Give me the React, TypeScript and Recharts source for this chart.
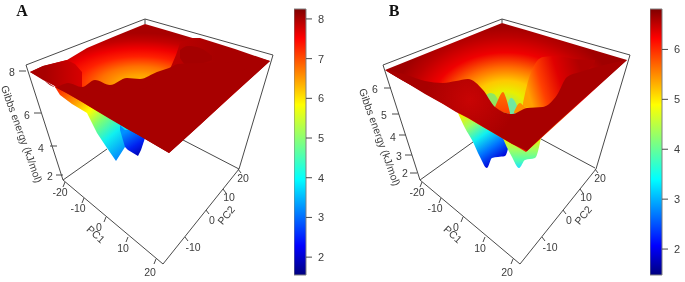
import React from "react";
import {
  Area,
  Bar,
  BarChart,
  ComposedChart,
  Line,
  Scatter,
  XAxis,
  YAxis,
} from "recharts";

// Everything in the perspective plots is given in the view plane of the plot.
const shiftB = 357;

// box edges (panel A, panel B is the same box moved right)
const floorFrontX = [26, 63, 163, 239, 273];
const floorFrontY = [65, 180, 264, 169, 55];
const topEdgeX = [26, 145, 273];
const topEdgeY = [65, 19, 55];
// the back edges only show where the surface does not hide them
const backLeftAX = [63, 107];
const backLeftAY = [180, 149];
const backRightAX = [239, 183];
const backRightAY = [169, 140];
const postAX = [145, 145];
const postAY = [19, 24];
const backLeftBX = [420, 473];
const backLeftBY = [180, 142];
const backRightBX = [595, 541];
const backRightBY = [168, 139];
const postBX = [502, 502];
const postBY = [19, 23];

// axis tick marks and labels
const pc1Labels = ["-20", "-10", "0", "10", "20"];
const pc1TickX = [65, 84, 106, 128, 156];
const pc1TickY = [182, 198, 217, 237, 259];
const pc1TextX = [60, 78, 99, 123, 150];
const pc1TextY = [192, 208, 227, 248, 272];
const pc2Labels = ["-10", "0", "10", "20"];
const pc2TickX = [185, 206, 223, 238];
const pc2TickY = [237, 210, 189, 169];
const pc2TextX = [193, 212, 229, 243];
const pc2TextY = [247, 220, 197, 178];

const zLabelsA = ["8", "6", "4", "2"];
const zTickXA = [26, 41, 57, 63];
const zTickYA = [71, 113, 146, 175];
const zTextXA = [12, 27, 41, 50];
const zTextYA = [72, 115, 148, 176];
const zLabelsB = ["6", "5", "4", "3", "2"];
const zTickXB = [391, 399, 406, 412, 417];
const zTickYB = [88, 114, 135, 155, 173];
const zTextXB = [375, 384, 393, 399, 405];
const zTextYB = [89, 115, 137, 156, 173];

// panel A surface
const kiteAX = [30, 43, 67, 87, 113, 145, 169, 270];
const kiteATop = [72, 66, 60, 48, 37, 24, 31, 61];
const kiteABot = [72, 79, 93, 105, 120, 139, 153, 61];
const frontAX = [30, 42, 55, 68, 82, 95, 110, 127, 140, 157, 169, 178, 200, 230, 270];
const frontATop = [72, 79, 87, 83, 87, 80, 85, 78, 79, 72, 68, 64, 63, 62, 61];
const frontABot = [72, 79, 87, 94, 102, 110, 119, 129, 136, 146, 153, 145, 125, 97, 61];
const wedgeAX = [30, 43, 67, 75, 82];
const wedgeATop = [72, 66, 60, 64, 72];
const wedgeABot = [72, 80, 92, 92, 92];
const wallAX = [170, 176, 180, 190, 200, 235, 270];
const wallATop = [69, 55, 43, 38, 38, 49, 61];
const wallABot = [72, 70, 68, 66, 66, 64, 61];
const lobeLeftAX = [55, 60, 72, 87, 97, 107, 116, 125, 132];
const lobeLeftATop = [86, 87, 93, 102, 108, 113, 119, 125, 129];
const lobeLeftABot = [87, 95, 104, 113, 133, 148, 161, 147, 135];
const lobeRightAX = [120, 125, 128, 133, 138, 141, 145];
const lobeRightATop = [125, 130, 130, 130, 132, 132, 135];
const lobeRightABot = [130, 147, 150, 153, 156, 150, 138];
const bumpAX = [180, 188, 200, 212];
const bumpATop = [50, 46, 48, 56];
const bumpABot = [58, 66, 64, 60];

// panel B surface
const kiteBX = [385, 502, 526, 627];
const kiteBTop = [70, 23, 30, 60];
const kiteBBot = [70, 138, 152, 60];
const frontBX = [385, 407, 425, 443, 456, 468, 483, 495, 512, 527, 543, 557, 567, 580, 600, 627];
const frontBTop = [70, 75, 81, 83, 81, 79, 90, 107, 114, 108, 107, 95, 77, 72, 66, 60];
const frontBBot = [70, 83, 94, 104, 112, 118, 127, 134, 144, 151, 136, 123, 114, 102, 84, 60];
const wedgeBX = [523, 530, 543, 557, 575, 595];
const wedgeBTop = [103, 75, 57, 56, 59, 60];
const wedgeBBot = [106, 108, 108, 105, 85, 62];
const patchBX = [486, 490, 494, 498];
const patchBTop = [95, 93, 94, 100];
const patchBBot = [97, 104, 107, 108];
const patchRightBX = [507, 511, 514, 517];
const patchRightBTop = [106, 98, 100, 106];
const patchRightBBot = [114, 115, 115, 114];
const spikeBX = [495, 498, 503, 506, 510];
const spikeBTop = [107, 100, 92, 98, 113];
const spikeBBot = [108, 110, 112, 113, 114];
const spikeSmallBX = [514, 520, 525, 530];
const spikeSmallBTop = [112, 103, 107, 109];
const spikeSmallBBot = [113, 113, 111, 109];
const lobeLeftBX = [458, 465, 472, 480, 487, 492, 498, 505, 510];
const lobeLeftBTop = [110, 112, 116, 120, 120, 122, 125, 127, 127];
const lobeLeftBBot = [113, 128, 140, 157, 168, 158, 157, 156, 140];
const lobeRightBX = [500, 505, 512, 519, 525, 535, 541];
const lobeRightBTop = [125, 125, 125, 125, 125, 125, 125];
const lobeRightBBot = [130, 143, 157, 168, 160, 158, 138];

// colour bars
const barA = [{ name: "A", range: [1.55, 8.25] }];
const ticksA = [2, 3, 4, 5, 6, 7, 8];
const barB = [{ name: "B", range: [1.48, 6.81] }];
const ticksB = [2, 3, 4, 5, 6];

const jet: [number, string][] = [
  [0, "#7f0000"],
  [0.11, "#ff0000"],
  [0.36, "#ffff00"],
  [0.5, "#7fff7f"],
  [0.64, "#00ffff"],
  [0.89, "#0000ff"],
  [1, "#00007f"],
];

const band = (xs: number[], tops: number[], bots: number[]) =>
  xs.map((x, i) => ({ x, band: [tops[i], bots[i]] }));

// the plane below the ridge, and the strip along the ridge itself
const belowRidge = (xs: number[], tops: number[], bots: number[]) =>
  xs.map((x, i) => ({ x, band: [Math.min(tops[i] + 7, bots[i]), bots[i]] }));
const alongRidge = (xs: number[], tops: number[], bots: number[]) =>
  xs.map((x, i) => ({ x, band: [tops[i], Math.min(tops[i] + 10, bots[i])] }));

const polyline = (xs: number[], ys: number[], dx = 0) =>
  xs.map((x, i) => ({ x: x + dx, y: ys[i] }));

// separate short strokes, a null row breaks the line
const strokes = (xs: number[], ys: number[], ox: number, oy: number, dx = 0) =>
  xs.flatMap((x, i) => [
    { x: x + dx, y: ys[i] },
    { x: x + dx + ox, y: ys[i] + oy },
    { x: x + dx + ox, y: null },
  ]);

const labels = (text: string[], xs: number[], ys: number[], dx = 0) =>
  text.map((label, i) => ({ x: xs[i] + dx, y: ys[i], label }));

const INK = "#3c3c3c";
const EDGE = "#4a4a4a";
const PLANE = "#a80000";

const makeText = (size: number, angle = 0, family = "Liberation Sans", weight = 400, color = INK) =>
  (p: any) => (
    <text
      x={p.cx}
      y={p.cy}
      transform={angle ? `rotate(${angle} ${p.cx} ${p.cy})` : undefined}
      textAnchor="middle"
      dominantBaseline="central"
      fontSize={size}
      fontFamily={family}
      fontWeight={weight}
      fill={color}
    >
      {p.payload.label}
    </text>
  );

const Surface = ({ id, data, fill, curve = "linear" }: any) => (
  <Area
    key={id}
    data={data}
    dataKey="band"
    type={curve}
    fill={fill}
    fillOpacity={1}
    stroke="none"
    dot={false}
    activeDot={false}
    isAnimationActive={false}
  />
);

const Edge = (data: any[], key: string, width = 1) => (
  <Line
    key={key}
    data={data}
    dataKey="y"
    stroke={EDGE}
    strokeWidth={width}
    dot={false}
    activeDot={false}
    isAnimationActive={false}
  />
);

const TextLayer = (data: any[], key: string, shape: any) => (
  <Scatter key={key} data={data} dataKey="y" shape={shape} isAnimationActive={false} />
);

const panelFrame = (dx: number, key: string) => [
  Edge(polyline(floorFrontX, floorFrontY, dx), `${key}-front`),
  Edge(polyline(topEdgeX, topEdgeY, dx), `${key}-top`),
  Edge(strokes(pc1TickX, pc1TickY, -2, 5, dx), `${key}-pc1t`),
  Edge(strokes(pc2TickX, pc2TickY, 3, 4, dx), `${key}-pc2t`),
];

const ColourBar = ({ data, ticks, domain, left, gradient }: any) => (
  <div style={{ position: "absolute", left, top: 0 }}>
    <BarChart
      width={42}
      height={282}
      data={data}
      barCategoryGap={0}
      margin={{ top: 9, right: 0, bottom: 7, left: 0 }}
    >
      <XAxis dataKey="name" hide />
      <YAxis
        orientation="right"
        width={30}
        type="number"
        domain={domain}
        ticks={ticks}
        interval={0}
        axisLine={false}
        tickSize={6}
        tickMargin={6}
        stroke={EDGE}
        tick={{ fontSize: 11, fontFamily: "Liberation Sans", fill: INK }}
      />
      <defs>
        <linearGradient id={gradient} x1="0" y1="0" x2="0" y2="1">
          {jet.map(([o, c]) => (
            <stop key={o} offset={o} stopColor={c} />
          ))}
        </linearGradient>
      </defs>
      <Bar dataKey="range" fill={`url(#${gradient})`} stroke="#808080" isAnimationActive={false} />
    </BarChart>
  </div>
);

export default function App() {
  return (
    <div
      style={{
        position: "absolute",
        left: 0,
        top: 0,
        width: 685,
        height: 282,
        background: "#fff",
        filter: "blur(0.45px)",
      }}
    >
      <ComposedChart width={685} height={282} margin={{ top: 0, right: 0, bottom: 0, left: 0 }}>
        <defs>
          <linearGradient id="lobeA" gradientUnits="userSpaceOnUse" x1={62} y1={88} x2={122} y2={158}>
            <stop offset={0} stopColor="#ff3000" />
            <stop offset={0.22} stopColor="#ffa000" />
            <stop offset={0.38} stopColor="#ffff00" />
            <stop offset={0.54} stopColor="#80ff70" />
            <stop offset={0.74} stopColor="#10f0f0" />
            <stop offset={1} stopColor="#0080ff" />
          </linearGradient>
          <linearGradient id="lobeA2" gradientUnits="userSpaceOnUse" x1={125} y1={132} x2={140} y2={156}>
            <stop offset={0} stopColor="#0090ff" />
            <stop offset={0.6} stopColor="#0020f0" />
            <stop offset={1} stopColor="#0000b0" />
          </linearGradient>
          <radialGradient
            id="wellA"
            gradientUnits="userSpaceOnUse"
            cx={140}
            cy={85}
            r={52}
            gradientTransform="translate(140 85) scale(2.2 1) translate(-140 -85)"
          >
            <stop offset={0} stopColor="#ffc800" />
            <stop offset={0.2} stopColor="#ffa000" />
            <stop offset={0.36} stopColor="#ff7000" />
            <stop offset={0.55} stopColor="#ff2000" />
            <stop offset={0.7} stopColor="#f00000" />
            <stop offset={0.85} stopColor="#c40000" />
            <stop offset={1} stopColor={PLANE} />
          </radialGradient>
          <linearGradient id="wedgeA" gradientUnits="userSpaceOnUse" x1={45} y1={75} x2={82} y2={75}>
            <stop offset={0} stopColor={PLANE} />
            <stop offset={1} stopColor="#d80000" />
          </linearGradient>
          <linearGradient id="wallA" gradientUnits="userSpaceOnUse" x1={175} y1={50} x2={215} y2={50}>
            <stop offset={0} stopColor="#bc0000" />
            <stop offset={1} stopColor={PLANE} />
          </linearGradient>
          <radialGradient
            id="wellB"
            gradientUnits="userSpaceOnUse"
            cx={506}
            cy={104}
            r={78}
            gradientTransform="translate(506 104) scale(1.45 1) translate(-506 -104)"
          >
            <stop offset={0} stopColor="#a0f060" />
            <stop offset={0.16} stopColor="#e8f000" />
            <stop offset={0.3} stopColor="#ffc800" />
            <stop offset={0.47} stopColor="#ff6c00" />
            <stop offset={0.66} stopColor="#f00000" />
            <stop offset={0.86} stopColor="#bc0000" />
            <stop offset={1} stopColor="#a00000" />
          </radialGradient>
          <linearGradient id="wedgeB" gradientUnits="userSpaceOnUse" x1={526} y1={85} x2={590} y2={65}>
            <stop offset={0} stopColor="#ffa000" />
            <stop offset={0.22} stopColor="#ff4000" />
            <stop offset={0.5} stopColor="#e00000" />
            <stop offset={0.85} stopColor="#b00000" />
          </linearGradient>
          <radialGradient id="frontB" gradientUnits="userSpaceOnUse" cx={470} cy={100} r={45}>
            <stop offset={0} stopColor="#c80404" />
            <stop offset={1} stopColor={PLANE} />
          </radialGradient>
          <linearGradient id="lobeB" gradientUnits="userSpaceOnUse" x1={463} y1={115} x2={498} y2={166}>
            <stop offset={0} stopColor="#f0f000" />
            <stop offset={0.2} stopColor="#a0ff60" />
            <stop offset={0.45} stopColor="#10f0f0" />
            <stop offset={0.7} stopColor="#0070ff" />
            <stop offset={0.9} stopColor="#0010e0" />
            <stop offset={1} stopColor="#0000b0" />
          </linearGradient>
          <linearGradient id="lobeB2" gradientUnits="userSpaceOnUse" x1={520} y1={138} x2={520} y2={168}>
            <stop offset={0} stopColor="#f0f000" />
            <stop offset={0.4} stopColor="#a0ff60" />
            <stop offset={0.75} stopColor="#50ffb0" />
            <stop offset={1} stopColor="#20e0ff" />
          </linearGradient>
          <linearGradient id="spikeB" gradientUnits="userSpaceOnUse" x1={503} y1={92} x2={503} y2={114}>
            <stop offset={0} stopColor="#ff7000" />
            <stop offset={1} stopColor="#ff4000" />
          </linearGradient>
        </defs>
        <XAxis type="number" dataKey="x" domain={[0, 685]} hide />
        <YAxis type="number" dataKey="y" domain={[0, 282]} reversed hide />

        {panelFrame(0, "a")}
        {panelFrame(shiftB, "b")}
        {Edge(polyline(backLeftAX, backLeftAY), "ab1")}
        {Edge(polyline(backRightAX, backRightAY), "ab2")}
        {Edge(polyline(postAX, postAY), "ab3")}
        {Edge(polyline(backLeftBX, backLeftBY), "bb1")}
        {Edge(polyline(backRightBX, backRightBY), "bb2")}
        {Edge(polyline(postBX, postBY), "bb3")}

        {/* panel A */}
        {Surface({ id: "a1", data: band(lobeLeftAX, lobeLeftATop, lobeLeftABot), fill: "url(#lobeA)" })}
        {Surface({ id: "a2", data: band(lobeRightAX, lobeRightATop, lobeRightABot), fill: "url(#lobeA2)" })}
        {Surface({ id: "a3", data: band(kiteAX, kiteATop, kiteABot), fill: "url(#wellA)" })}
        {Surface({ id: "a4", data: band(wedgeAX, wedgeATop, wedgeABot), fill: "url(#wedgeA)" })}
        {Surface({ id: "a5", data: band(wallAX, wallATop, wallABot), fill: "url(#wallA)" })}
        {Surface({ id: "a6", data: band(bumpAX, bumpATop, bumpABot), fill: "#a40000", curve: "monotone" })}
        {Surface({ id: "a7", data: belowRidge(frontAX, frontATop, frontABot), fill: PLANE })}
        {Surface({ id: "a8", data: alongRidge(frontAX, frontATop, frontABot), fill: PLANE, curve: "monotone" })}

        {/* panel B */}
        {Surface({ id: "b1", data: band(lobeLeftBX, lobeLeftBTop, lobeLeftBBot), fill: "url(#lobeB)", curve: "monotone" })}
        {Surface({ id: "b2", data: band(lobeRightBX, lobeRightBTop, lobeRightBBot), fill: "url(#lobeB2)", curve: "monotone" })}
        {Surface({ id: "b3", data: band(kiteBX, kiteBTop, kiteBBot), fill: "url(#wellB)" })}
        {Surface({ id: "b4", data: band(wedgeBX, wedgeBTop, wedgeBBot), fill: "url(#wedgeB)", curve: "monotone" })}
        {Surface({ id: "b5", data: band(patchBX, patchBTop, patchBBot), fill: "#90e860", curve: "monotone" })}
        {Surface({ id: "b5r", data: band(patchRightBX, patchRightBTop, patchRightBBot), fill: "#70e8a0", curve: "monotone" })}
        {Surface({ id: "b6", data: band(spikeBX, spikeBTop, spikeBBot), fill: "url(#spikeB)", curve: "monotone" })}
        {Surface({ id: "b7", data: band(spikeSmallBX, spikeSmallBTop, spikeSmallBBot), fill: "#ff9000", curve: "monotone" })}
        {Surface({ id: "b8", data: belowRidge(frontBX, frontBTop, frontBBot), fill: "url(#frontB)" })}
        {Surface({ id: "b9", data: alongRidge(frontBX, frontBTop, frontBBot), fill: "url(#frontB)", curve: "monotone" })}

        {/* axis text */}
        {TextLayer(labels(pc1Labels, pc1TextX, pc1TextY), "ta1", makeText(10.5))}
        {TextLayer(labels(pc2Labels, pc2TextX, pc2TextY), "ta2", makeText(10.5))}
        {TextLayer(labels(pc1Labels, pc1TextX, pc1TextY, shiftB), "tb1", makeText(10.5))}
        {TextLayer(labels(pc2Labels, pc2TextX, pc2TextY, shiftB), "tb2", makeText(10.5))}
        {Edge(strokes(zTickXA, zTickYA, -7, 0), "za")}
        {Edge(strokes(zTickXB, zTickYB, -7, 0), "zb")}
        {TextLayer(labels(zLabelsA, zTextXA, zTextYA), "za-t", makeText(10.5))}
        {TextLayer(labels(zLabelsB, zTextXB, zTextYB), "zb-t", makeText(10.5))}
        {TextLayer(labels(["PC1"], [96], [234]), "p1a", makeText(10.5, 42))}
        {TextLayer(labels(["PC2"], [226], [215]), "p2a", makeText(10.5, -50))}
        {TextLayer(labels(["PC1"], [96], [234], shiftB), "p1b", makeText(10.5, 42))}
        {TextLayer(labels(["PC2"], [226], [215], shiftB), "p2b", makeText(10.5, -50))}
        {TextLayer(labels(["Gibbs energy (kJ/mol)"], [22], [134]), "ga", makeText(10.5, 70))}
        {TextLayer(labels(["Gibbs energy (kJ/mol)"], [380], [137]), "gb", makeText(10.5, 70))}
        {TextLayer(labels(["A"], [22], [10]), "la", makeText(16, 0, "Liberation Serif", 700, "#111"))}
        {TextLayer(labels(["B"], [394], [10]), "lb", makeText(16, 0, "Liberation Serif", 700, "#111"))}
      </ComposedChart>
      <ColourBar data={barA} ticks={ticksA} domain={[1.55, 8.25]} left={294} gradient="jetA" />
      <ColourBar data={barB} ticks={ticksB} domain={[1.48, 6.81]} left={650} gradient="jetB" />
    </div>
  );
}
